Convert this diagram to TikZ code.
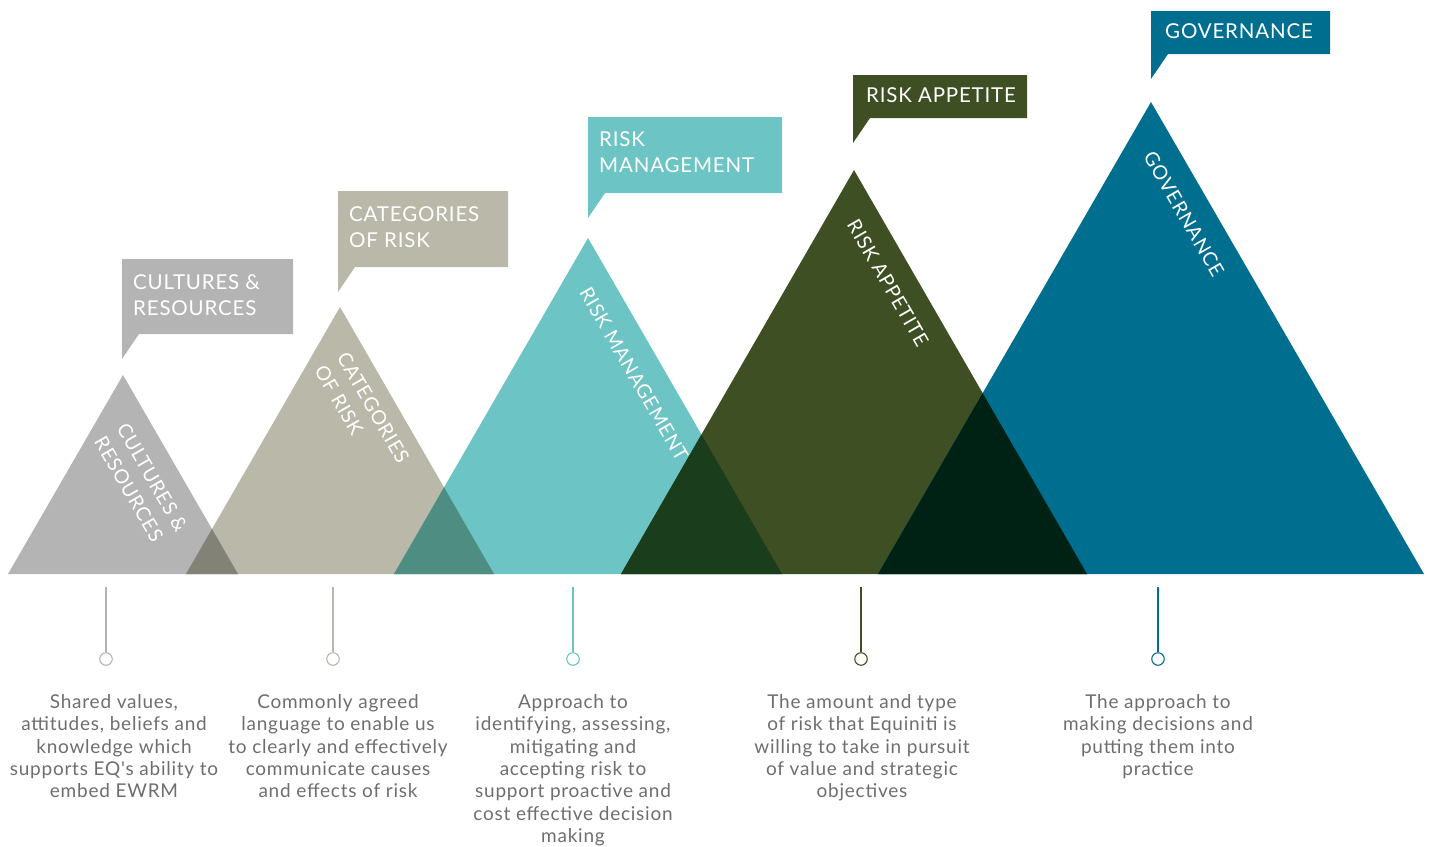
\documentclass[tikz,border=0pt]{standalone}
\usepackage{fontspec}
\setmainfont{Lato}
\newfontfamily\lsfont{Lato}[LetterSpace=4]
\definecolor{cgray}{RGB}{180,180,180}
\definecolor{cbeige}{RGB}{185,184,169}
\definecolor{cteal}{RGB}{108,196,196}
\definecolor{colive}{RGB}{62,79,36}
\definecolor{cblue}{RGB}{0,110,143}
\definecolor{ograybeige}{RGB}{131,130,119}
\definecolor{obeigeteal}{RGB}{78,141,130}
\definecolor{otealolive}{RGB}{26,61,28}
\definecolor{oliveblue}{RGB}{0,34,20}
\definecolor{desctext}{RGB}{110,110,110}
\newcommand\triCult{(8,574) -- (123,375) -- (238,574) -- cycle}
\newcommand\triCat{(186,574) -- (340,307) -- (494,574) -- cycle}
\newcommand\triRisk{(394,574) -- (588,238) -- (782,574) -- cycle}
\newcommand\triApp{(621,574) -- (854,170) -- (1087,574) -- cycle}
\newcommand\triGov{(878,574) -- (1151,102) -- (1424,574) -- cycle}
\tikzset{
  boxtext/.style={anchor=north west, align=left, inner sep=0pt, text=white,
    font=\lsfont\fontsize{20.5}{26}\selectfont},
  tritext/.style={rotate=-60, align=left, inner sep=0pt, text=white,
    font=\lsfont\fontsize{19.5}{26}\selectfont},
  desc/.style={anchor=north, align=center, inner sep=0pt, text=desctext,
    font=\lsfont\fontsize{19}{22.4}\selectfont},
  pin/.style={circle, draw=#1, fill=white, line width=1.1pt, minimum size=12.5pt, inner sep=0pt},
  pinline/.style={draw=#1, line width=1.1pt},
}
\newcommand\callout[5]{% L T R B colour
  \fill[#5] (#1,#2) -- (#3,#2) -- (#3,#4) -- (#1+17,#4) -- (#1,#4+25) -- cycle;}
\begin{document}
\begin{tikzpicture}[x=1pt,y=-1pt]
\useasboundingbox (0,0) rectangle (1429,846);
% triangles
\fill[cgray] \triCult;
\fill[cbeige] \triCat;
\fill[cteal] \triRisk;
\fill[colive] \triApp;
\fill[cblue] \triGov;
% overlaps (multiply)
\begin{scope}\clip \triCult; \fill[ograybeige] \triCat; \end{scope}
\begin{scope}\clip \triCat; \fill[obeigeteal] \triRisk; \end{scope}
\begin{scope}\clip \triRisk; \fill[otealolive] \triApp; \end{scope}
\begin{scope}\clip \triApp; \fill[oliveblue] \triGov; \end{scope}
% texts inside triangles
\node[tritext] (tcult) at (141,484) {CULTURES \&\\RESOURCES};
\node[tritext] (tcat) at (362,414) {CATEGORIES\\OF RISK};
\node[tritext] (trisk) at (634,374) {RISK MANAGEMENT};
\node[tritext] (tapp) at (888,283) {RISK APPETITE};
\node[tritext] (tgov) at (1184,214) {GOVERNANCE};
% callouts
\callout{122}{259}{293}{334}{cgray}
\callout{338}{191}{508}{267}{cbeige}
\callout{588}{117}{782}{193}{cteal}
\callout{853}{75}{1027}{118}{colive}
\callout{1151}{11}{1330}{54}{cblue}
\node[boxtext] (bcult) at (133,274) {CULTURES \&\\RESOURCES};
\node[boxtext] (bcat) at (349,206) {CATEGORIES\\OF RISK};
\node[boxtext] (brisk) at (599,131) {RISK\\MANAGEMENT};
\node[boxtext] (bapp) at (866,87) {RISK APPETITE};
\node[boxtext] (bgov) at (1165,23) {GOVERNANCE};
% pins
\coordinate (s1) at (106,587);
\coordinate (s2) at (333,587);
\coordinate (s3) at (573,587);
\coordinate (s4) at (861,587);
\coordinate (s5) at (1158,587);
\node[pin=cgray] (p1) at (106,659) {};
\node[pin=cbeige] (p2) at (333,659) {};
\node[pin=cteal] (p3) at (573,659) {};
\node[pin=colive] (p4) at (861,659) {};
\node[pin=cblue] (p5) at (1158,659) {};
\draw[pinline=cgray] (s1) -- (p1);
\draw[pinline=cbeige] (s2) -- (p2);
\draw[pinline=cteal] (s3) -- (p3);
\draw[pinline=colive] (s4) -- (p4);
\draw[pinline=cblue] (s5) -- (p5);
% descriptions
\node[desc] (d1) at (114,694) {Shared values,\\attitudes, beliefs and\\knowledge which\\supports EQ{\char"0027}s ability to\\embed EWRM};
\node[desc] (d2) at (338,694) {Commonly agreed\\language to enable us\\to clearly and effectively\\communicate causes\\and effects of risk};
\node[desc] (d3) at (573,694) {Approach to\\identifying, assessing,\\mitigating and\\accepting risk to\\support proactive and\\cost effective decision\\making};
\node[desc] (d4) at (862,694) {The amount and type\\of risk that Equiniti is\\willing to take in pursuit\\of value and strategic\\objectives};
\node[desc] (d5) at (1158,694) {The approach to\\making decisions and\\putting them into\\practice};
\end{tikzpicture}
\end{document}
